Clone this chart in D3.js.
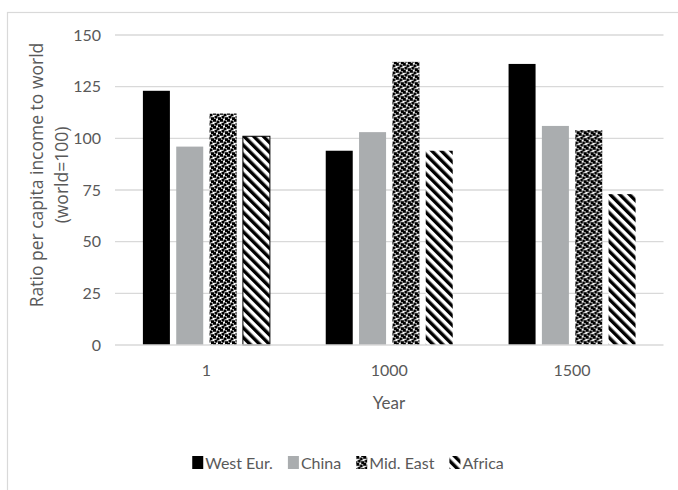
<!DOCTYPE html>
<html>
<head>
<meta charset="utf-8">
<script src="https://cdn.jsdelivr.net/npm/d3@7"></script>
<style>
  html, body { margin: 0; padding: 0; background: #fff; }
  svg { display: block; }
</style>
</head>
<body>
<svg id="chart" width="678" height="490"></svg>
<script>
const years = ["1", "1000", "1500"];
const seriesNames = ["West Eur.", "China", "Mid. East", "Africa"];
const westEur = [123, 94, 136];
const china = [96, 103, 106];
const midEast = [112, 137, 104];
const africa = [101, 94, 73];
const yTicks = [0, 25, 50, 75, 100, 125, 150];
const yTitleLines = ["Ratio per capita income to world", "(world=100)"];
const xTitle = "Year";

const seriesValues = [westEur, china, midEast, africa];
const fills = ["#000000", "#aaadaf", "url(#confetti)", "url(#stripes)"];

const narrow = "Lato,'Open Sans',sans-serif";
const textColor = "#595959";

const svg = d3.select("#chart");

// patterns
const defs = svg.append("defs");
const conf = defs.append("pattern").attr("id", "confetti")
  .attr("patternUnits", "userSpaceOnUse").attr("width", 7).attr("height", 7);
conf.append("rect").attr("width", 7).attr("height", 7).attr("fill", "#fff");
[[0, 0], [3.5, 1.5], [1.5, 3.8], [5, 5.2], [5, -1.8], [-2, 5.2]].forEach(([a, b]) => {
  conf.append("rect").attr("x", a).attr("y", b).attr("width", 3).attr("height", 2.8).attr("fill", "#000");
});
const str = defs.append("pattern").attr("id", "stripes")
  .attr("patternUnits", "userSpaceOnUse").attr("width", 6.8).attr("height", 6.8)
  .attr("patternTransform", "rotate(-45)");
str.append("rect").attr("width", 6.8).attr("height", 6.8).attr("fill", "#fff");
str.append("rect").attr("width", 3.4).attr("height", 6.8).attr("fill", "#000");

// chart border
svg.append("rect").attr("x", 7.5).attr("y", 12.5).attr("width", 720).attr("height", 520)
  .attr("fill", "#fff").attr("stroke", "#d9d9d9").attr("stroke-width", 1.2);

const x0 = d3.scaleBand().domain(years).range([115, 663.5]);
const x1 = d3.scaleBand().domain(seriesNames).range([27.9, 154.9]).paddingInner(0.19);
const y = d3.scaleLinear().domain([0, 150]).range([345, 35]);

// gridlines
svg.append("g").selectAll("line").data(yTicks.filter(d => d !== 0)).join("line")
  .attr("x1", 115).attr("x2", 663.5)
  .attr("y1", d => y(d)).attr("y2", d => y(d))
  .attr("stroke", "#d9d9d9").attr("stroke-width", 1.3);

// y axis labels
const yAxis = svg.append("g").attr("transform", "translate(101,0)")
  .call(d3.axisLeft(y).tickValues(yTicks).tickSize(0).tickPadding(0));
yAxis.select(".domain").remove();
yAxis.selectAll("text").attr("fill", textColor).style("font-family", narrow).style("font-size", "16px");

// bars
const groups = svg.append("g").selectAll("g").data(years).join("g")
  .attr("transform", d => `translate(${x0(d)},0)`);
groups.selectAll("rect")
  .data((d, i) => seriesNames.map((s, j) => ({ s, j, i, v: seriesValues[j][i] })))
  .join("rect")
  .attr("x", d => x1(d.s))
  .attr("width", x1.bandwidth())
  .attr("y", d => y(d.v))
  .attr("height", d => y(0) - y(d.v))
  .attr("fill", d => fills[d.j])
  .attr("stroke", d => (d.j === 3 && d.i === 0) ? "#000" : "none")
  .attr("stroke-width", 1);

// baseline
svg.append("line").attr("x1", 115).attr("x2", 663.5).attr("y1", y(0)).attr("y2", y(0))
  .attr("stroke", "#d9d9d9").attr("stroke-width", 1.6);

// x axis labels
const xAxis = svg.append("g").attr("transform", "translate(0,365)")
  .call(d3.axisBottom(x0).tickSize(0).tickPadding(0));
xAxis.select(".domain").remove();
xAxis.selectAll("text").attr("fill", textColor).style("font-family", narrow).style("font-size", "16px");

// x title
svg.append("text").attr("x", 389).attr("y", 409).attr("text-anchor", "middle")
  .attr("fill", textColor).style("font-family", narrow).style("font-size", "17px").text(xTitle);

// y title
const yt = svg.append("text").attr("transform", "translate(0,175) rotate(-90)")
  .attr("text-anchor", "middle").attr("fill", textColor)
  .style("font-family", "'Open Sans',sans-serif").style("font-size", "17.5px");
yTitleLines.forEach((t, i) => {
  yt.append("tspan").attr("x", 0).attr("y", 43 + i * 25).text(t);
});

// legend
const leg = svg.append("g");
let cx = 0;
seriesNames.forEach((s, j) => {
  const g = leg.append("g");
  g.append("rect").attr("x", 0).attr("y", -7).attr("width", 11).attr("height", 13).attr("fill", fills[j]);
  const t = g.append("text").attr("x", 13).attr("y", 0).attr("dy", "0.35em")
    .attr("fill", textColor).style("font-family", narrow).style("font-size", "16px").text(s);
  const w = 13 + t.node().getComputedTextLength();
  g.attr("transform", `translate(${cx},0)`);
  cx += w + 15;
});
const total = cx - 15;
leg.attr("transform", `translate(${348 - total / 2},463)`);
</script>
</body>
</html>
